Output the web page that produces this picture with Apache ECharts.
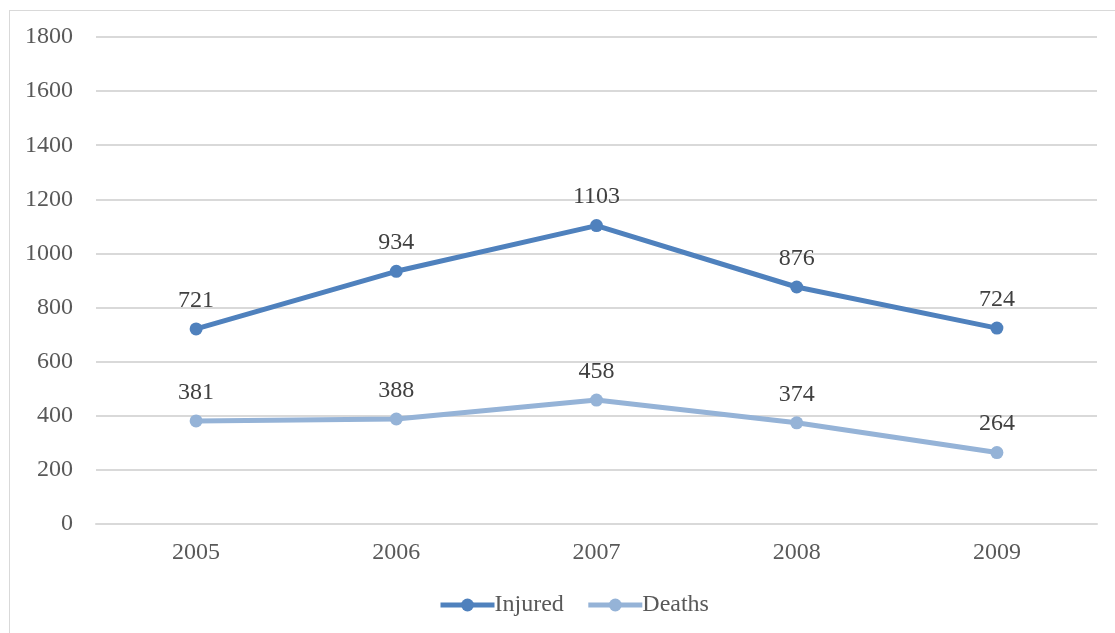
<!DOCTYPE html>
<html><head><meta charset="utf-8">
<script src="https://cdn.jsdelivr.net/npm/echarts@6/dist/echarts.min.js"></script>
<style>html,body{margin:0;padding:0;background:#fff}#c{width:1115px;height:633px}
#box{position:absolute;left:9px;top:10px;width:1120px;height:640px;border:1px solid #d9d9d9;box-sizing:border-box}</style>
</head><body><div id="box"></div><div id="c" style="position:absolute;left:0;top:0"></div>
<script>
const categories = ['2005','2006','2007','2008','2009'];
const injured = [721, 934, 1103, 876, 724];
const deaths = [381, 388, 458, 374, 264];
const yTicks = {min:0, max:1800, interval:200};
const F = '"Liberation Serif", serif';
const chart = echarts.init(document.getElementById('c'));
const lbl = {show:true, position:'top', distance:10, color:'#404040', fontFamily:F, fontSize:24};
chart.setOption({
  animation:false,
  grid:{left:96, right:18, top:37, bottom:109, containLabel:false},
  xAxis:{type:'category', data:categories, boundaryGap:true,
    axisLine:{lineStyle:{color:'#d9d9d9', width:2}}, axisTick:{show:false},
    axisLabel:{color:'#595959', fontFamily:F, fontSize:24, margin:17}},
  yAxis:{type:'value', min:yTicks.min, max:yTicks.max, interval:yTicks.interval,
    axisLine:{show:false}, axisTick:{show:false},
    splitLine:{lineStyle:{color:'#d9d9d9', width:2}},
    axisLabel:{color:'#595959', fontFamily:F, fontSize:24, margin:23, padding:[5,0,0,0], formatter:v=>String(v)}},
  legend:{bottom:11, left:433, itemWidth:54, itemHeight:16, itemGap:22,
    lineStyle:{width:5},
    textStyle:{color:'#595959', fontFamily:F, fontSize:24, padding:[0,0,0,-5]}},
  series:[
    {name:'Injured', type:'line', data:injured, symbol:'circle', symbolSize:13,
     lineStyle:{color:'#4f81bd', width:5}, itemStyle:{color:'#4f81bd'}, label:lbl},
    {name:'Deaths', type:'line', data:deaths, symbol:'circle', symbolSize:13,
     lineStyle:{color:'#95b3d7', width:5}, itemStyle:{color:'#95b3d7'}, label:lbl}
  ]
});
</script></body></html>
